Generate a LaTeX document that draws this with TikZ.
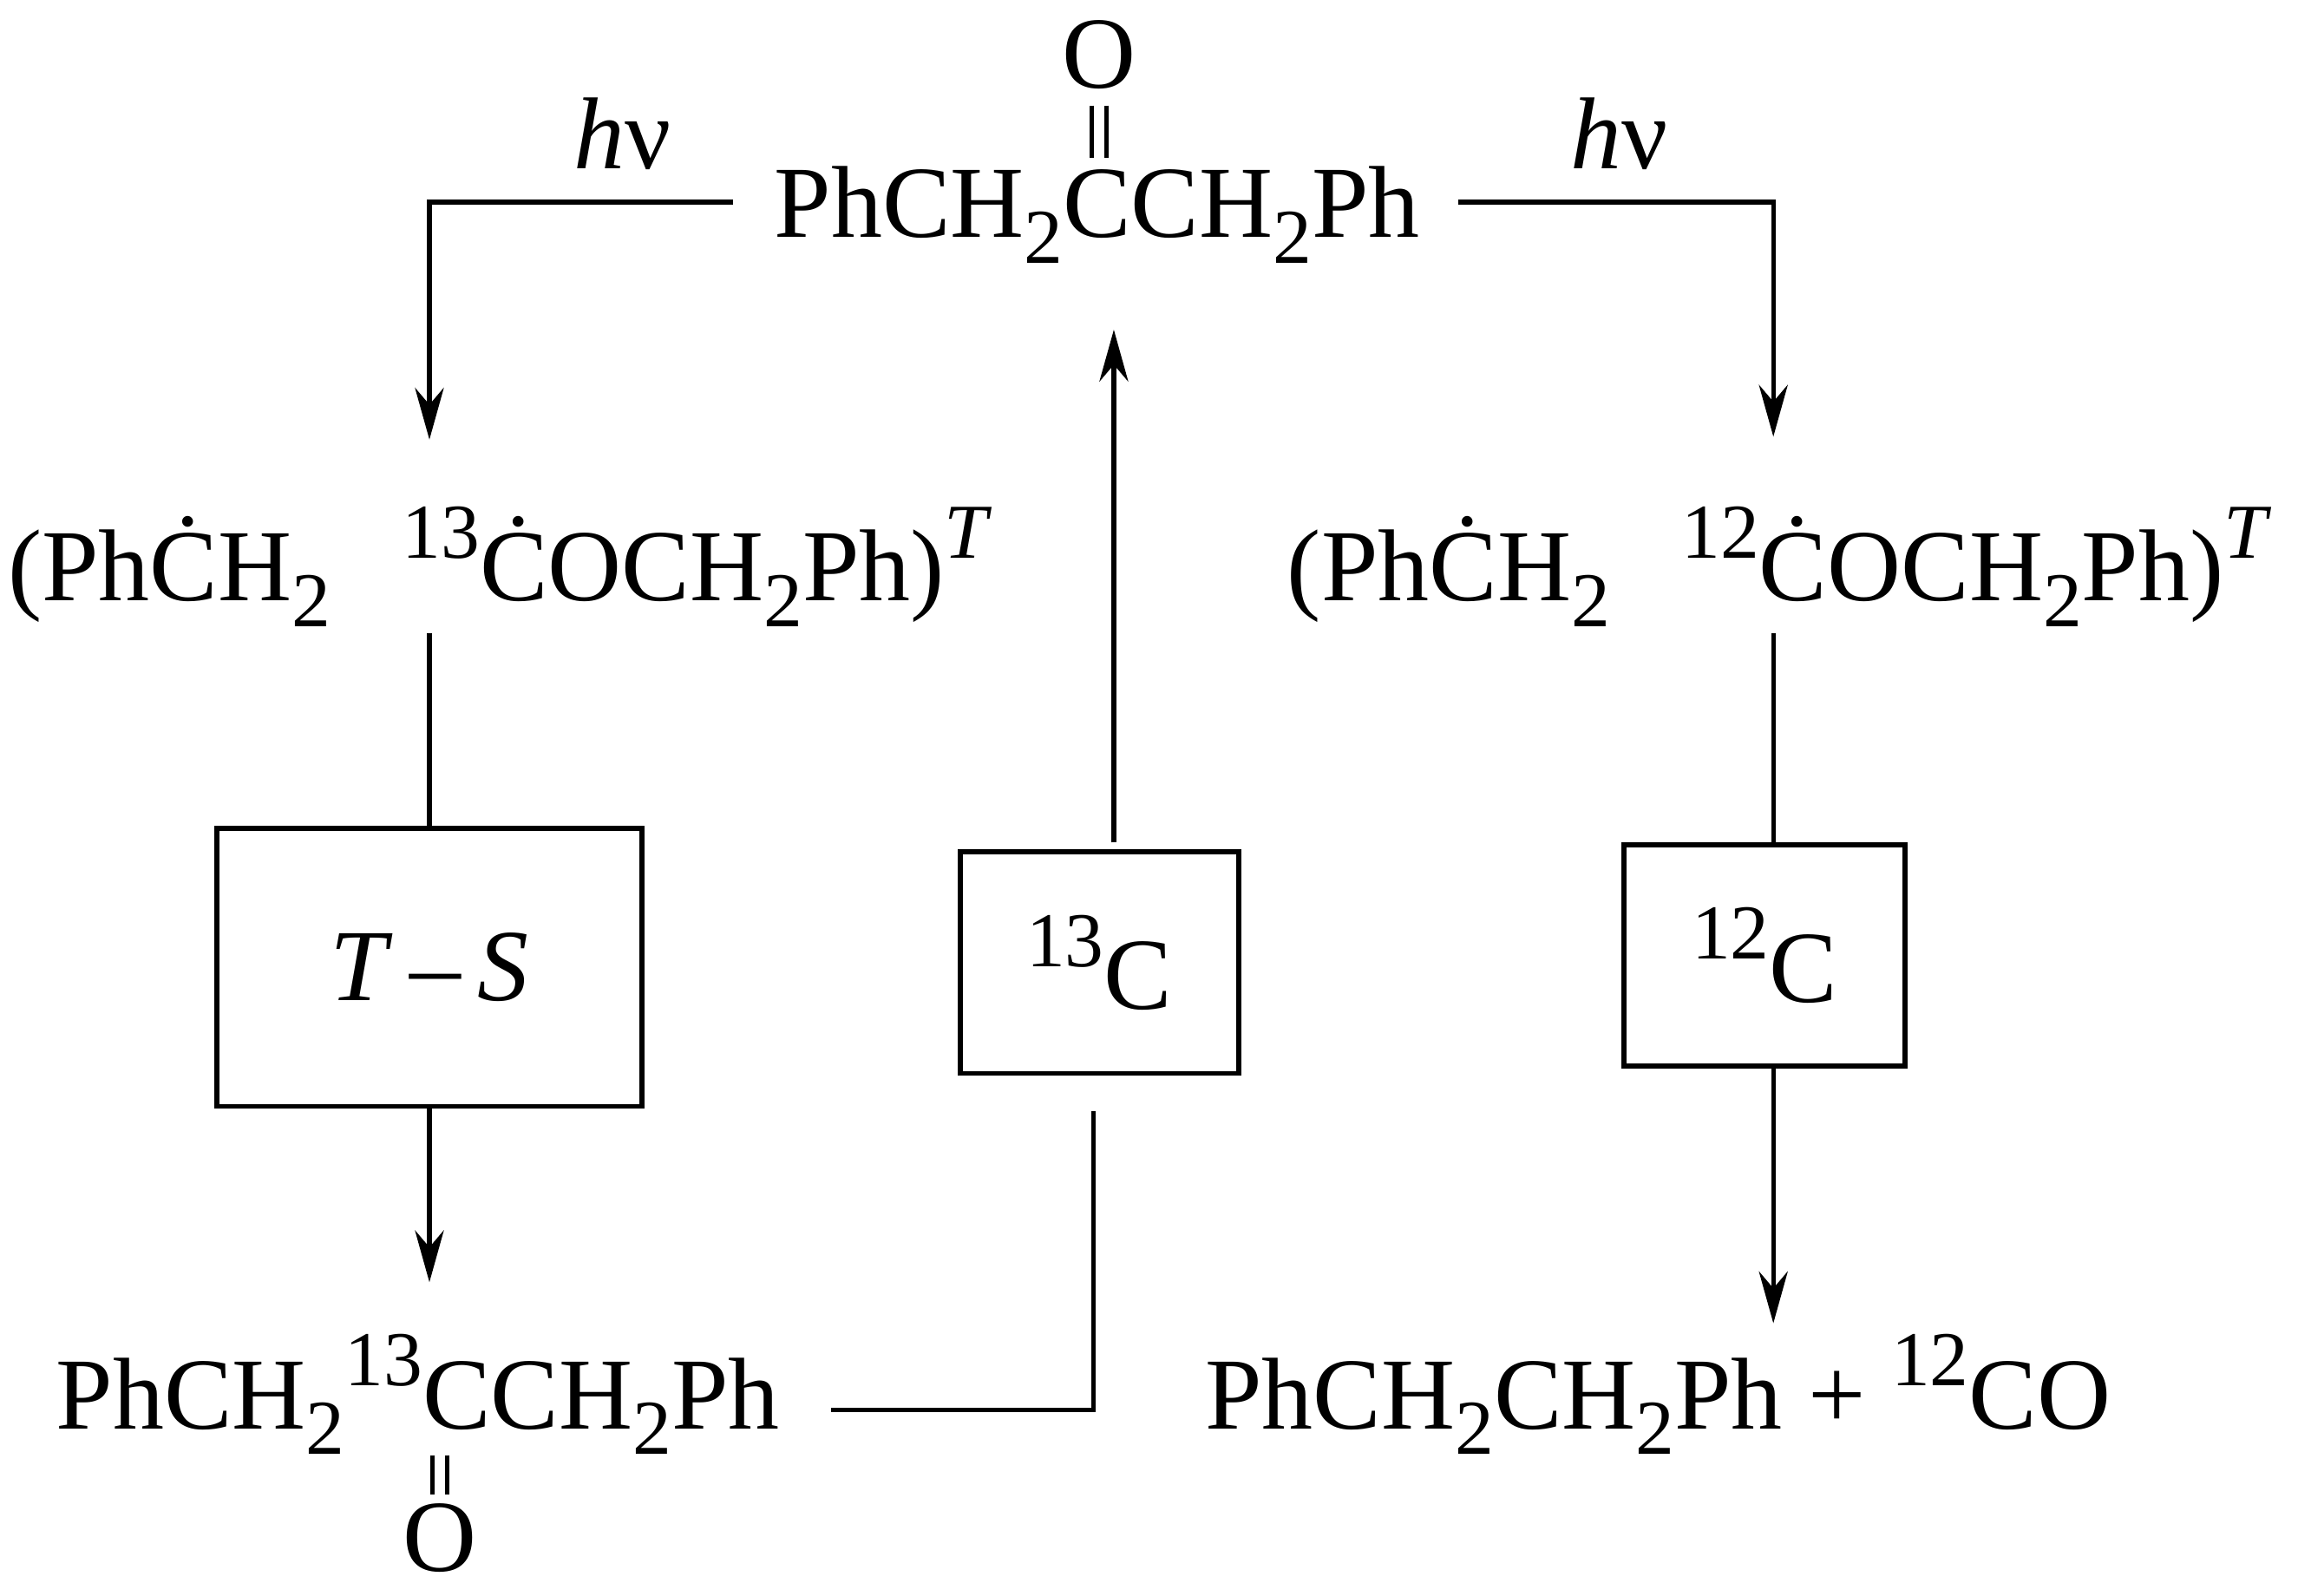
\documentclass[tikz,border=0pt]{standalone}
\usepackage{fontspec}
\setmainfont{Liberation Serif}
\usetikzlibrary{arrows.meta}
\begin{document}
\begin{tikzpicture}[x=0.0179cm,y=-0.0179cm,
  txt/.style={inner sep=0pt,anchor=base west,font=\fontsize{35.5}{40}\selectfont},
  bx/.style={draw,line width=1.8pt},
  ln/.style={line width=1.6pt},
  ar/.style={line width=1.6pt,-{Stealth[length=18pt,width=10pt]}}]
\useasboundingbox (0,0) rectangle (1568,1089);
\newcommand{\sbs}[1]{\raisebox{-0.25em}{\fontsize{27}{30}\selectfont #1}}
\newcommand{\sps}[1]{\raisebox{0.42em}{\fontsize{27}{30}\selectfont #1}}
% top
\node[txt] (top) at (528,162) {PhCH\sbs{2}CCH\sbs{2}Ph};
\node[txt,anchor=base] (o1) at (750,60) {O};
\draw[ln] (745,72)--(745,108) (755,72)--(755,108);
\node[txt,anchor=base] (hv1) at (425,115) {\textit{h}ν};
\node[txt,anchor=base] (hv2) at (1105,115) {\textit{h}ν};
\coordinate (a1) at (500,138); \coordinate (a2) at (293,138); \coordinate (a3) at (293,300);
\draw[ar] (a1)--(a2)--(a3);
\coordinate (b1) at (995,138); \coordinate (b2) at (1210,138); \coordinate (b3) at (1210,298);
\draw[ar] (b1)--(b2)--(b3);
% intermediates
\node[txt] (il) at (5,410) {(Ph\.CH\sbs{2}\hspace{0.7em}\sps{13}\.COCH\sbs{2}Ph)\sps{\textit{T}}};
\node[txt] (ir) at (878,410) {(Ph\.CH\sbs{2}\hspace{0.7em}\sps{12}\.COCH\sbs{2}Ph)\sps{\textit{T}}};
% boxes
\node[bx,minimum width=290*0.0179cm,minimum height=190*0.0179cm,font=\fontsize{35.5}{40}\selectfont] (ts) at (293,660) {\textit{T}\,–\,\textit{S}};
\node[bx,minimum width=190*0.0179cm,minimum height=151*0.0179cm,font=\fontsize{35.5}{40}\selectfont] (c13) at (750,657) {\sps{13}C};
\node[bx,minimum width=192*0.0179cm,minimum height=151*0.0179cm,font=\fontsize{35.5}{40}\selectfont] (c12) at (1204,652) {\sps{12}C};
\coordinate (l1) at (293,432); \draw[ln] (l1)--(ts.north -| l1);
\draw[ar] (ts.south)--(293,875);
\coordinate (r1) at (1210,432); \draw[ln] (r1)--(c12.north -| r1);
\draw[ar] (c12.south -| r1)--(1210,903);
\coordinate (u1) at (760,575); \draw[ar] (u1)--(760,225);
% bottom
\node[txt] (bl) at (38,975) {PhCH\sbs{2}\sps{13}CCH\sbs{2}Ph};
\draw[ln] (295,993)--(295,1020) (305,993)--(305,1020);
\node[txt,anchor=base] (o2) at (300,1072) {O};
\coordinate (m1) at (567,962); \coordinate (m2) at (746,962); \coordinate (m3) at (746,758);
\draw[ln] (m1)--(m2)--(m3);
\node[txt] (br) at (822,975) {PhCH\sbs{2}CH\sbs{2}Ph + \sps{12}CO};
\end{tikzpicture}
\end{document}
